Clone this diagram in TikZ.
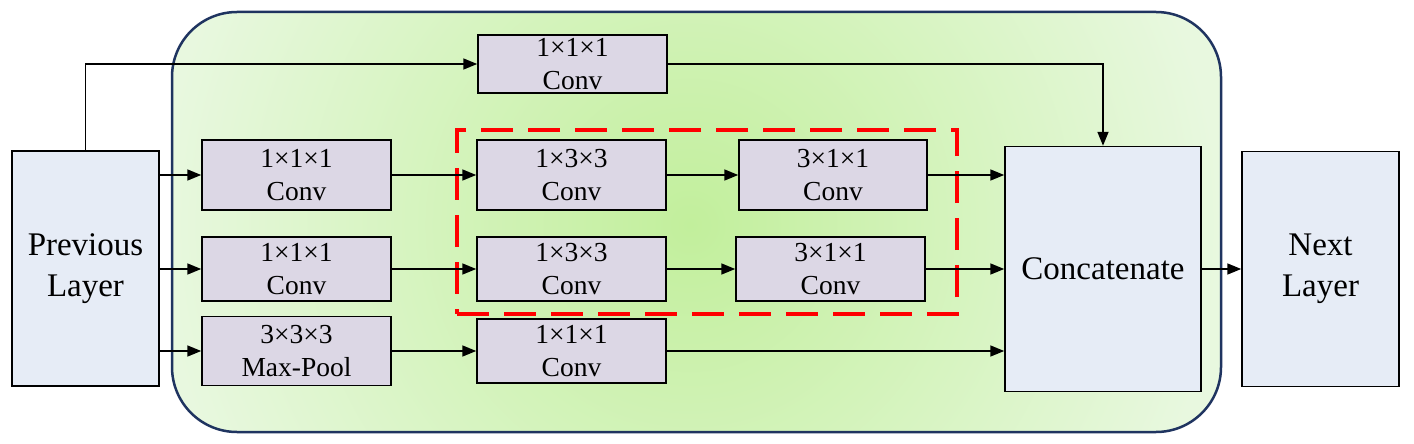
\documentclass[tikz,border=0pt]{standalone}
\usepackage{fontspec}
\setmainfont{Liberation Serif}
\usetikzlibrary{arrows.meta}
\definecolor{lav}{HTML}{DCD7E5}
\definecolor{lblue}{HTML}{E6ECF6}
\definecolor{navy}{HTML}{1F3460}
\definecolor{gin}{HTML}{C2EF9C}
\definecolor{gout}{HTML}{E8F8DF}
\tikzset{
  convbox/.style={draw=black, line width=1.5pt, fill=lav, inner sep=0pt,
    minimum width=189pt, minimum height=70pt, align=center,
    font=\fontsize{27.5}{33}\selectfont},
  bigbox/.style={draw=black, line width=1.5pt, fill=lblue, inner sep=0pt,
    align=center, font=\fontsize{33}{41}\selectfont},
  arr/.style={line width=1.7pt, -{Triangle[length=14pt,width=11pt]}},
  grp/.style={draw=red, line width=4pt, dash pattern=on 32pt off 15pt, inner sep=0pt},
}
\begin{document}
\begin{tikzpicture}[x=1pt,y=-1pt]
\useasboundingbox (0,0) rectangle (1414,444);
% module background
\begin{scope}
  \clip[rounded corners=65pt] (172,12) rectangle (1221,432);
  \fill[gout] (172,12) rectangle (1221,432);
  \shade[inner color=gin, outer color=gout] (690,225) circle (530);
\end{scope}
\draw[navy, line width=2.5pt, rounded corners=65pt] (172,12) rectangle (1221,432);
% outer boxes
\node[bigbox, minimum width=147pt, minimum height=235pt] (prev) at (85.5,268.5) {Previous\\Layer};
\node[bigbox, minimum width=196pt, minimum height=245pt] (concat) at (1103,269) {Concatenate};
\node[bigbox, minimum width=157pt, minimum height=235pt] (next) at (1320.5,269) {Next\\Layer};
% conv boxes
\node[convbox, minimum height=58pt] (top) at (572.5,64) {1×1×1\\Conv};
\node[convbox] (r1a) at (296.5,175) {1×1×1\\Conv};
\node[convbox] (r1b) at (571.5,175) {1×3×3\\Conv};
\node[convbox, minimum width=188pt] (r1c) at (833,175) {3×1×1\\Conv};
\node[convbox, minimum height=64pt] (r2a) at (296.5,269) {1×1×1\\Conv};
\node[convbox, minimum height=64pt] (r2b) at (571.5,269) {1×3×3\\Conv};
\node[convbox, minimum height=64pt] (r2c) at (830.5,269) {3×1×1\\Conv};
\node[convbox, minimum height=69pt] (r3a) at (296.5,351) {3×3×3\\Max-Pool};
\node[convbox, minimum height=64pt] (r3b) at (571.5,351) {1×1×1\\Conv};
% red dashed group
\node[grp, minimum width=500pt, minimum height=184pt] (group) at (707,222) {};
% connectors
\draw[arr] (prev.north) |- (top.west);
\draw[arr] (top.east) -| (concat.north);
\draw[arr] (prev.east |- r1a.west) -- (r1a.west);
\draw[arr] (prev.east |- r2a.west) -- (r2a.west);
\draw[arr] (prev.east |- r3a.west) -- (r3a.west);
\draw[arr] (r1a.east) -- (r1b.west);
\draw[arr] (r1b.east) -- (r1c.west);
\draw[arr] (r2a.east) -- (r2a.east -| r2b.west);
\draw[arr] (r2b.east) -- (r2b.east -| r2c.west);
\draw[arr] (r3a.east) -- (r3a.east -| r3b.west);
\draw[arr] (r1c.east) -- (r1c.east -| concat.west);
\draw[arr] (r2c.east) -- (r2c.east -| concat.west);
\draw[arr] (r3b.east) -- (r3b.east -| concat.west);
\draw[arr] (concat.east) -- (concat.east -| next.west);
\end{tikzpicture}
\end{document}
